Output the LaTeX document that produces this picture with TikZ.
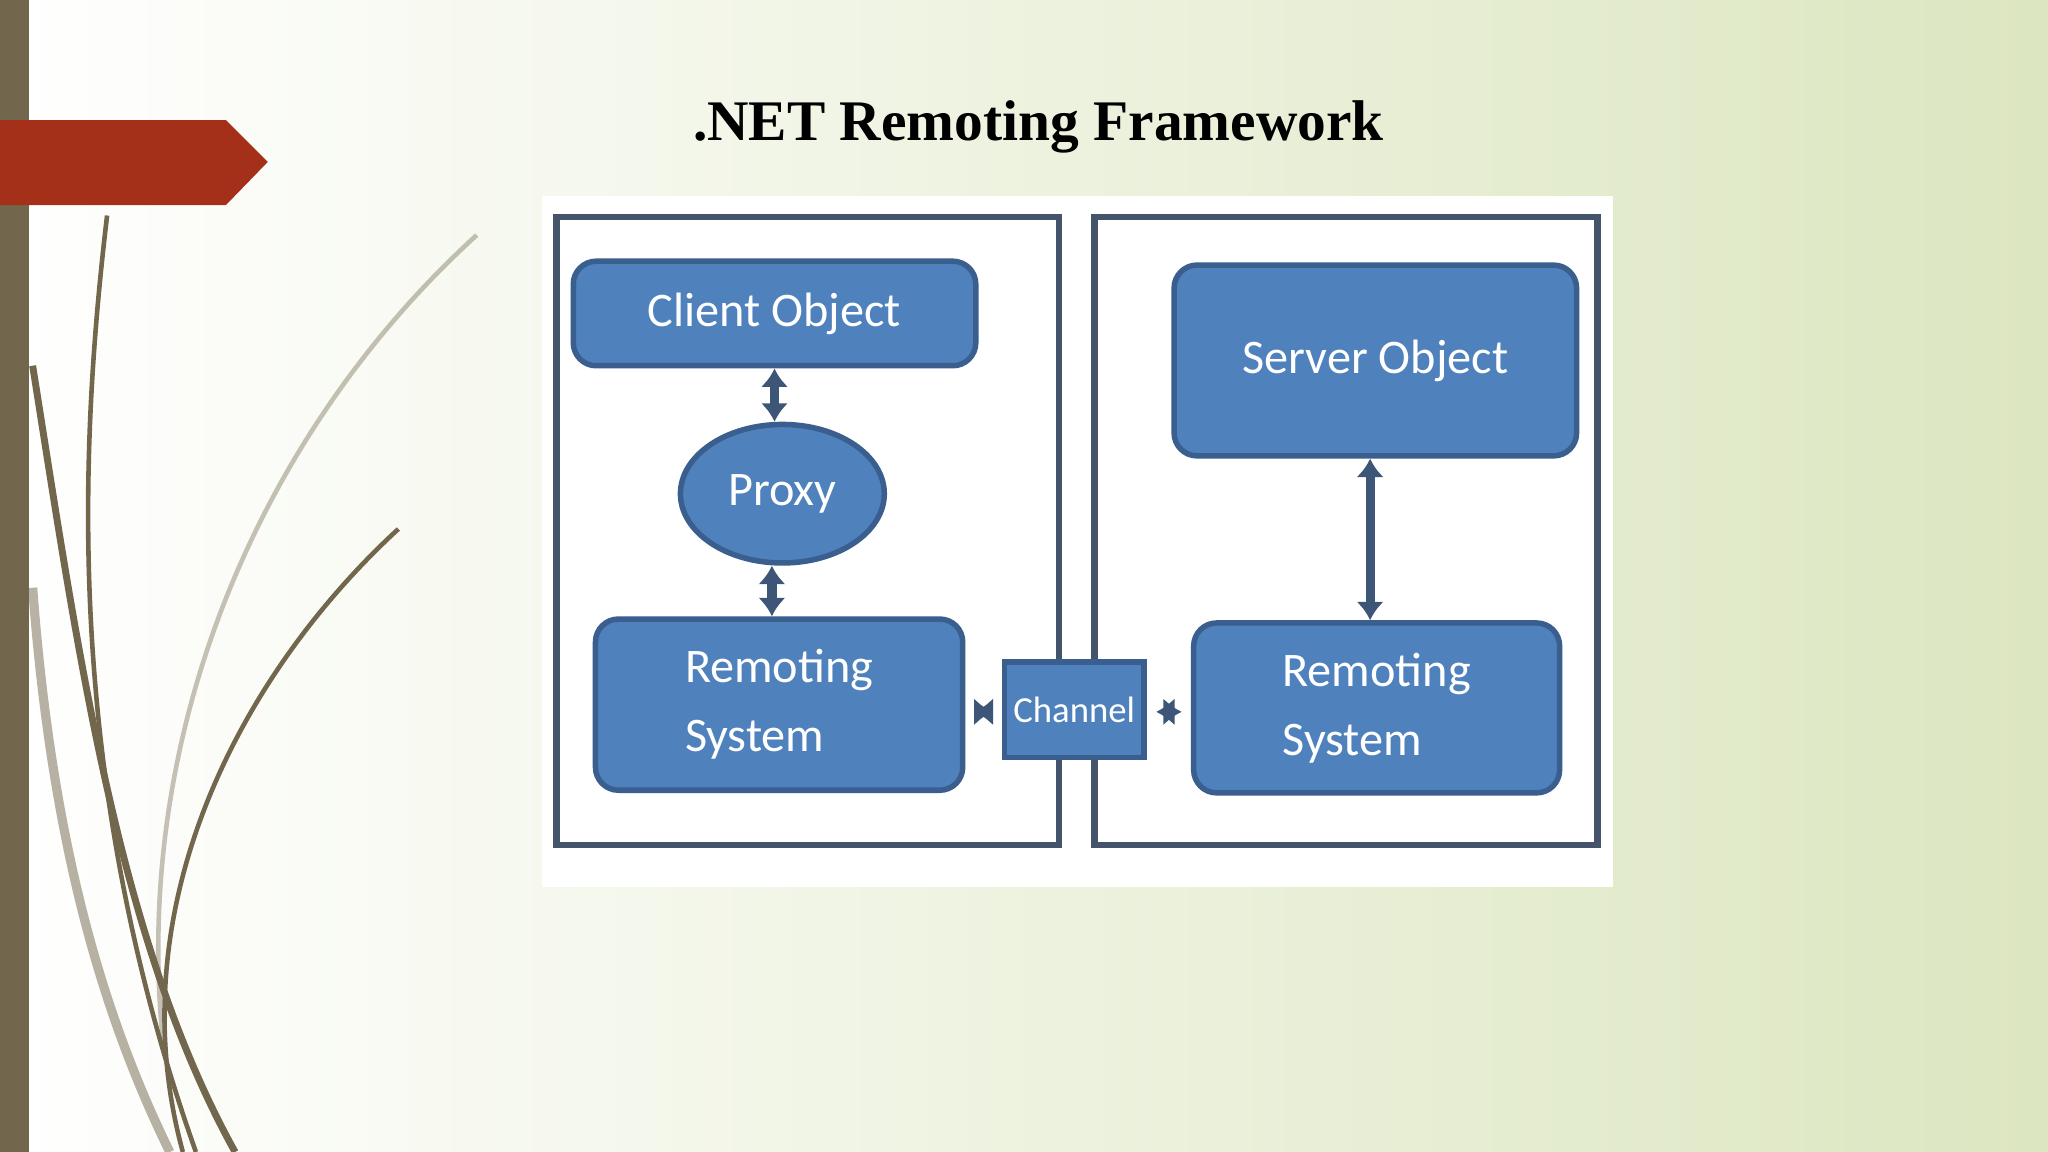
\documentclass[tikz,border=0pt]{standalone}
\usepackage{fontspec}
\setmainfont{Liberation Serif}
\newfontfamily\carlitofont{Carlito}
\usetikzlibrary{shapes.geometric,arrows.meta}
\definecolor{boxblue}{HTML}{4F81BD}
\definecolor{boxedge}{HTML}{3A5F8F}
\definecolor{panel}{HTML}{44546A}
\definecolor{arr}{HTML}{3D5677}
\definecolor{olive}{HTML}{72664C}
\definecolor{rust}{HTML}{A5301A}
\definecolor{bgr}{HTML}{DCE6C0}
\tikzset{
 blk/.style={draw=boxedge,line width=1.2pt,fill=boxblue,rounded corners=5pt,text=white,font=\carlitofont\fontsize{10.5}{15}\selectfont,align=left,inner sep=0pt},
 pnl/.style={draw=panel,line width=1.4pt},
 dbl/.style={arr,line width=2pt,{Latex[length=4pt,width=6pt]}-{Latex[length=4pt,width=6pt]}},
 vine/.style={olive,line width=1pt}
}
\begin{document}
\begin{tikzpicture}[x=0.01cm,y=-0.01cm]
\useasboundingbox (0,0) rectangle (1568,882);
\shade[left color=white,right color=bgr] (0,0) rectangle (1568,882);
% vines
\draw[vine,line width=1.5pt] (25,280) .. controls (60,500) and (90,720) .. (180,882);
\draw[vine] (82,165) .. controls (60,350) and (50,600) .. (150,882);
\draw[vine,opacity=0.5,line width=2pt] (25,450) .. controls (40,650) and (80,780) .. (130,882);
\draw[vine] (305,405) .. controls (180,520) and (90,700) .. (140,882);
\draw[vine,opacity=0.4] (365,180) .. controls (200,330) and (100,560) .. (125,800);
\fill[olive] (0,0) rectangle (22,882);
\fill[rust] (0,92) -- (173,92) -- (205,124) -- (173,157) -- (0,157) -- cycle;
\node[font=\bfseries\fontsize{12.5}{15}\selectfont] (title) at (795,97) {.NET Remoting Framework};
% diagram
\fill[white] (415,150) rectangle (1235,679);
\draw[pnl] (426,166) rectangle (811,647);
\draw[pnl] (838,166) rectangle (1223,647);
\node[blk,minimum width=3.08cm,minimum height=0.8cm,align=center] (co) at (593,240) {Client Object};
\node[blk,ellipse,minimum width=1.56cm,minimum height=1.06cm,align=center] (px) at (599,378) {Proxy};
\node[blk,minimum width=2.81cm,minimum height=1.31cm] (rl) at (596.5,539.5) {Remoting\\System};
\node[blk,rounded corners=0pt,minimum width=1.07cm,minimum height=0.73cm,font=\carlitofont\fontsize{8}{10}\selectfont] (ch) at (822.5,543.5) {Channel};
\node[blk,minimum width=3.08cm,minimum height=1.46cm,align=center] (so) at (1053,276) {Server Object};
\node[blk,minimum width=2.8cm,minimum height=1.3cm] (rr) at (1054,542) {Remoting\\System};
\draw[dbl] (co.south -| 593,0) -- (px.north -| 593,0);
\draw[dbl] (px.south -| 591,0) -- (rl.north -| 591,0);
\draw[dbl] (so.south -| 1049,0) -- (rr.north -| 1049,0);
\draw[dbl] ([xshift=2pt]rl.east |- 0,545) -- ([xshift=-2pt]ch.west |- 0,545);
\draw[dbl] ([xshift=2pt]ch.east |- 0,545) -- ([xshift=-2pt]rr.west |- 0,545);
\end{tikzpicture}
\end{document}
